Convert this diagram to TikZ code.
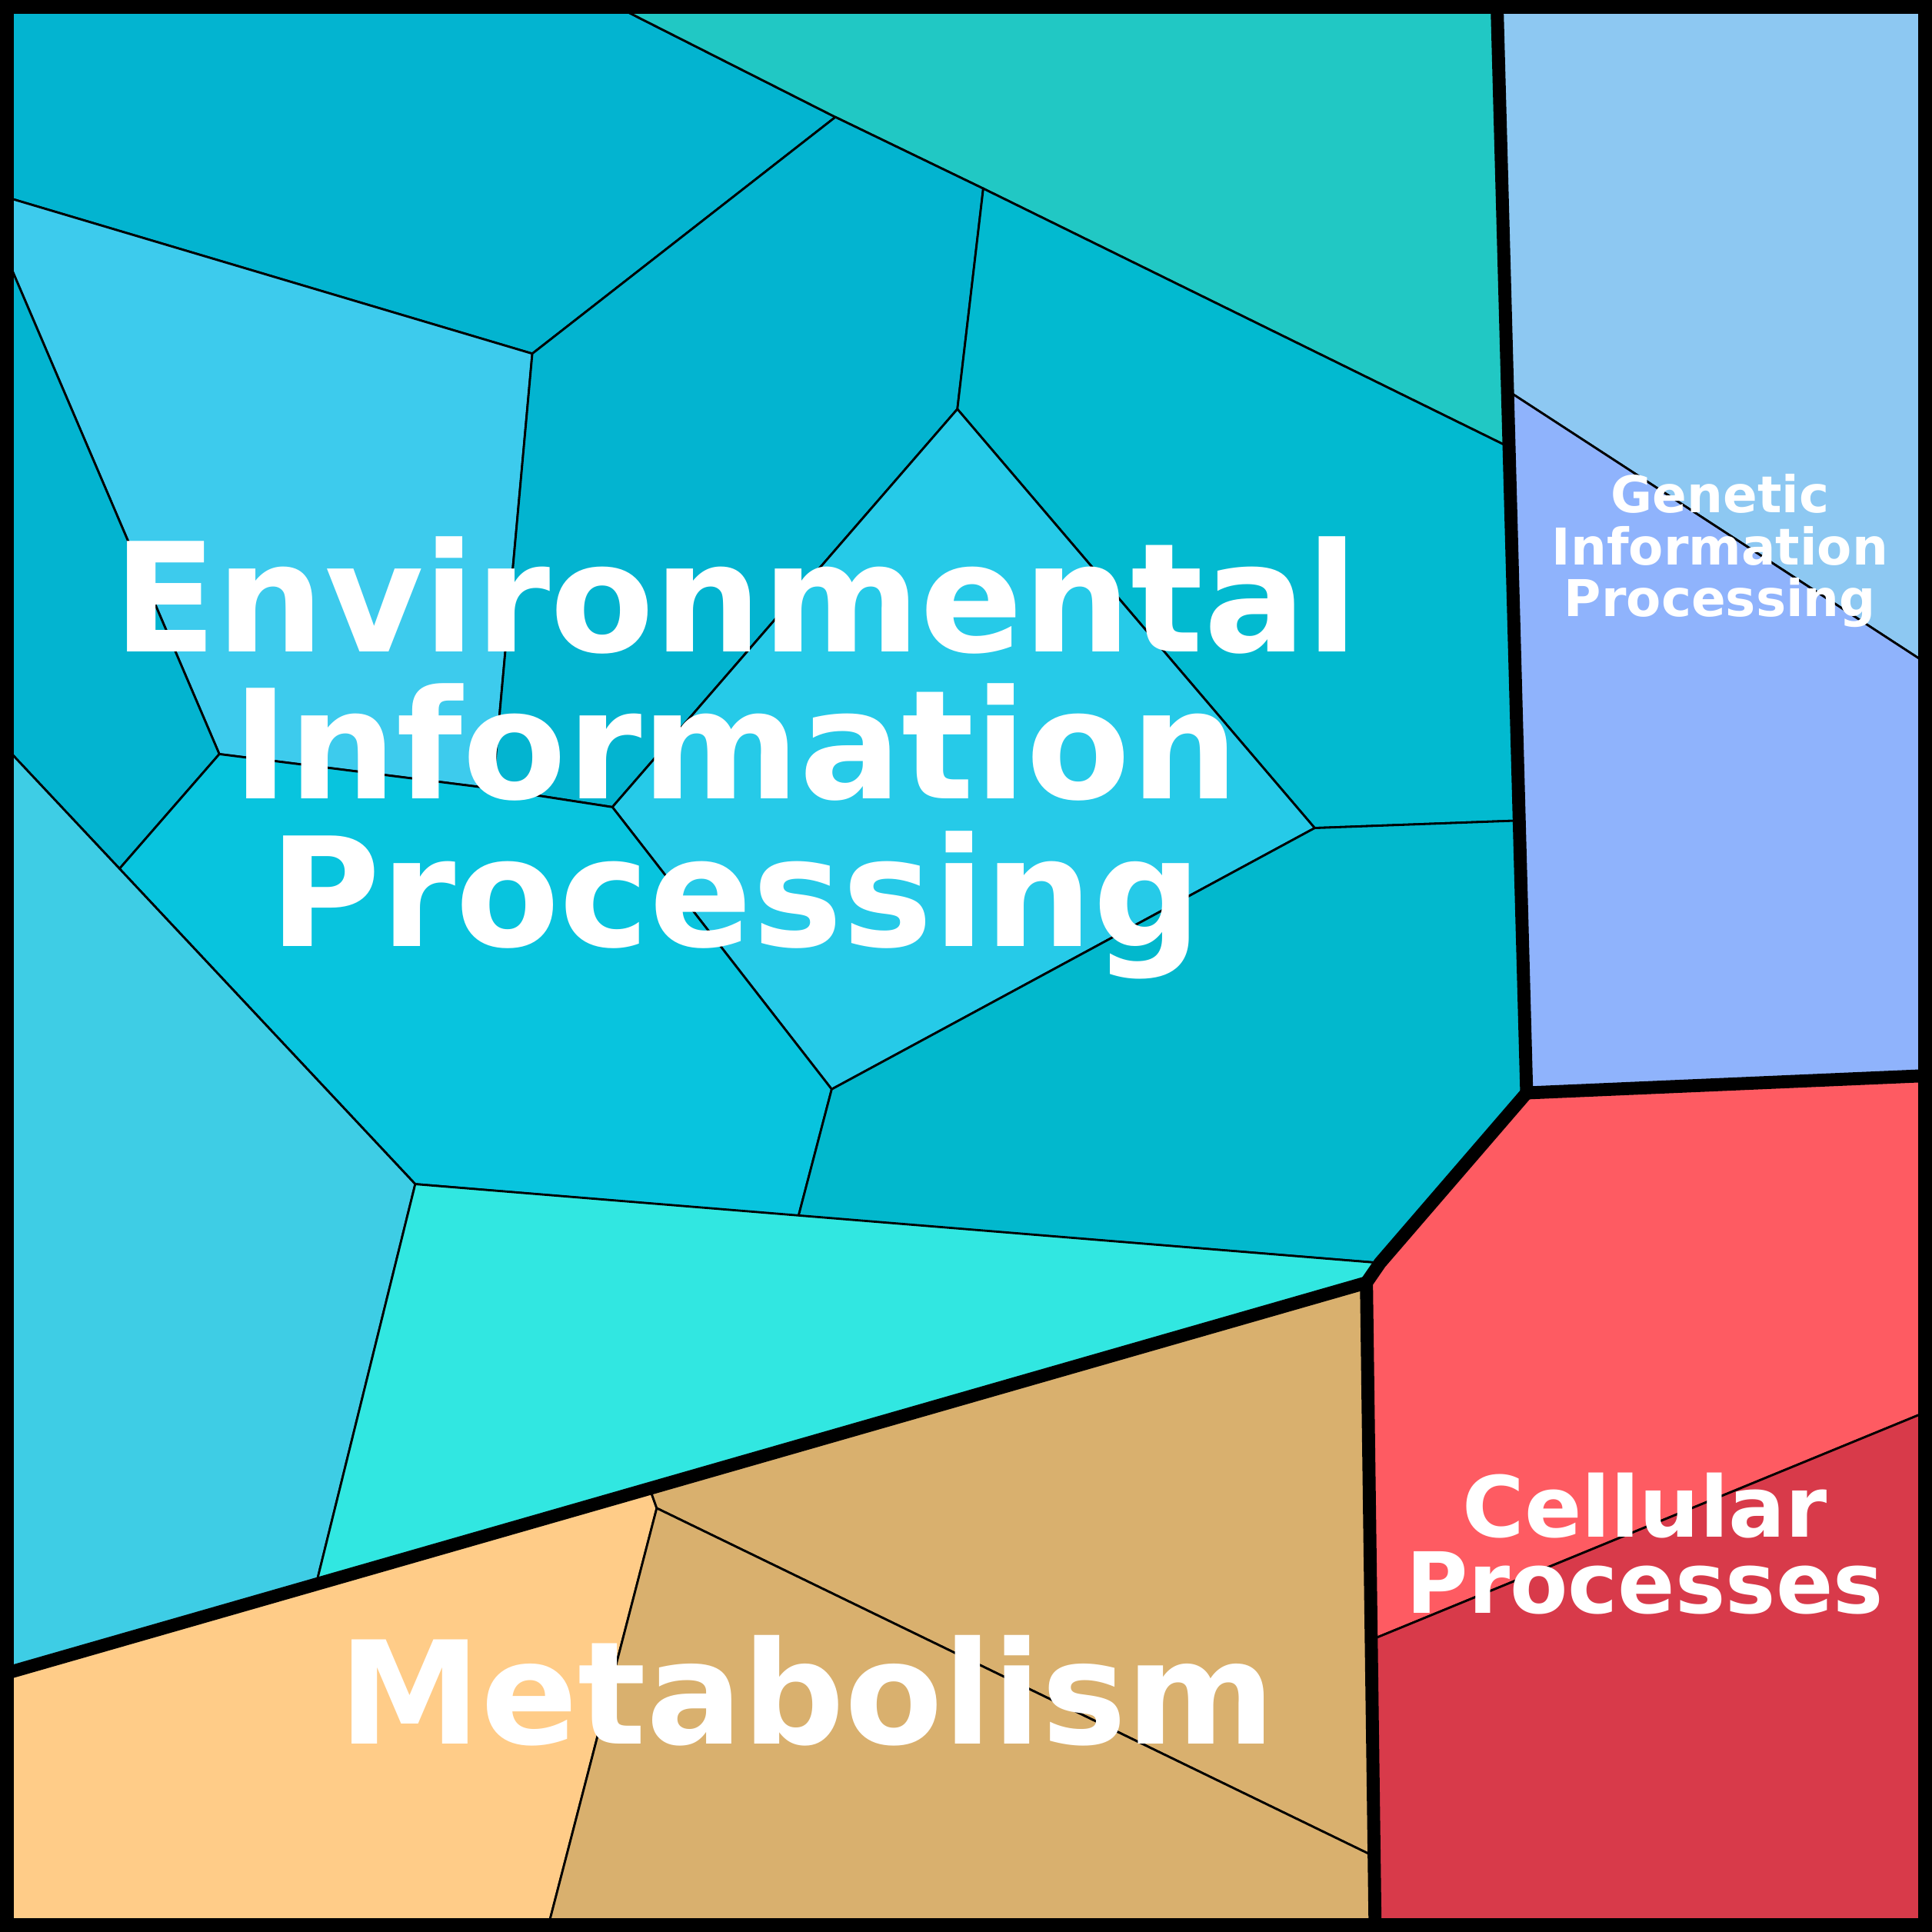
\documentclass[tikz,border=0pt]{standalone}
\usepackage{fontspec}
\setmainfont{DejaVu Sans}
\begin{document}
\begin{tikzpicture}[x=0.01cm,y=-0.01cm,
  cell/.style={draw=black,line width=0.5pt,line join=round},
  thick border/.style={draw=black,line width=3pt,line join=round,line cap=round},
  lbl/.style={text=white,font=\bfseries,align=center,inner sep=0pt}]
\definecolor{cA}{HTML}{03B4D0}
\definecolor{cB}{HTML}{21C8C4}
\definecolor{cC}{HTML}{3DCBED}
\definecolor{cF}{HTML}{02BAD0}
\definecolor{cG}{HTML}{26CAE8}
\definecolor{cH}{HTML}{08C4DE}
\definecolor{cI}{HTML}{02B8CD}
\definecolor{cJ}{HTML}{3ECDE5}
\definecolor{cK}{HTML}{31E7E1}
\definecolor{cL}{HTML}{8DC8F2}
\definecolor{cM}{HTML}{8FB3FC}
\definecolor{cN}{HTML}{FE5B62}
\definecolor{cO}{HTML}{D83A4A}
\definecolor{cP}{HTML}{FFCC88}
\definecolor{cQ}{HTML}{D9B06E}
\useasboundingbox (0,0) rectangle (1568,1568);
\fill[white] (0,0) rectangle (1568,1568);
\path[cell,fill=cA] (5,5)--(500,5)--(678,95)--(432,287)--(5,160)--cycle;
\path[cell,fill=cB] (500,5)--(1215,5)--(1223,362)--(798,153)--(678,95)--cycle;
\path[cell,fill=cC] (5,160)--(432,287)--(400,640)--(178,612)--(5,208)--cycle;
\path[cell,fill=cA] (678,95)--(798,153)--(777,332)--(497,655)--(400,640)--(432,287)--cycle;
\path[cell,fill=cA] (5,208)--(178,612)--(97,705)--(5,607)--cycle;
\path[cell,fill=cF] (798,153)--(1223,362)--(1231,666)--(1067,672)--(777,332)--cycle;
\path[cell,fill=cG] (777,332)--(1067,672)--(675,884)--(497,655)--cycle;
\path[cell,fill=cH] (178,612)--(400,640)--(497,655)--(675,884)--(648,987)--(337,961)--(97,705)--cycle;
\path[cell,fill=cI] (1067,672)--(1231,666)--(1239,887)--(1120,1025)--(648,987)--(675,884)--cycle;
\path[cell,fill=cJ] (5,607)--(97,705)--(337,961)--(257,1284)--(5,1358)--cycle;
\path[cell,fill=cK] (337,961)--(1120,1025)--(1109,1041)--(257,1284)--cycle;
\path[cell,fill=cL] (1215,5)--(1563,5)--(1563,538)--(1225,318)--cycle;
\path[cell,fill=cM] (1225,318)--(1563,538)--(1563,873)--(1239,887)--cycle;
\path[cell,fill=cN] (1239,887)--(1563,873)--(1563,1146)--(1115,1330)--(1109,1041)--cycle;
\path[cell,fill=cO] (1115,1330)--(1563,1146)--(1563,1563)--(1116,1563)--cycle;
\path[cell,fill=cP] (5,1358)--(528,1210)--(533,1224)--(445,1563)--(5,1563)--cycle;
\path[cell,fill=cQ] (528,1210)--(1109,1041)--(1114,1506)--(533,1224)--cycle;
\path[cell,fill=cQ] (533,1224)--(1114,1506)--(1116,1563)--(445,1563)--cycle;
\coordinate (g1) at (1215,5);
\coordinate (g2) at (1239,887);
\coordinate (g3) at (1563,873);
\coordinate (m1) at (1109,1041);
\coordinate (m2) at (1116,1563);
\coordinate (m3) at (5,1358);
\coordinate (e1) at (1120,1025);
\draw[thick border] (g1)--(g2)--(g3);
\draw[thick border] (g2)--(e1)--(m1)--(m2);
\draw[thick border] (m1)--(m3);
\draw[draw=black,line width=3.5pt] (5,5) rectangle (1563,1563);
\node[lbl,font=\bfseries\fontsize{35}{34}\selectfont] (env) at (597,615) {Environmental\\Information\\Processing};
\node[lbl,font=\bfseries\fontsize{11.7}{12}\selectfont] (gen) at (1396,447) {Genetic\\Information\\Processing};
\node[lbl,font=\bfseries\fontsize{19.5}{17.6}\selectfont] (cel) at (1335,1253) {Cellular\\Processes};
\node[lbl,font=\bfseries\fontsize{33}{34}\selectfont] (met) at (655,1372) {Metabolism};
\end{tikzpicture}
\end{document}
